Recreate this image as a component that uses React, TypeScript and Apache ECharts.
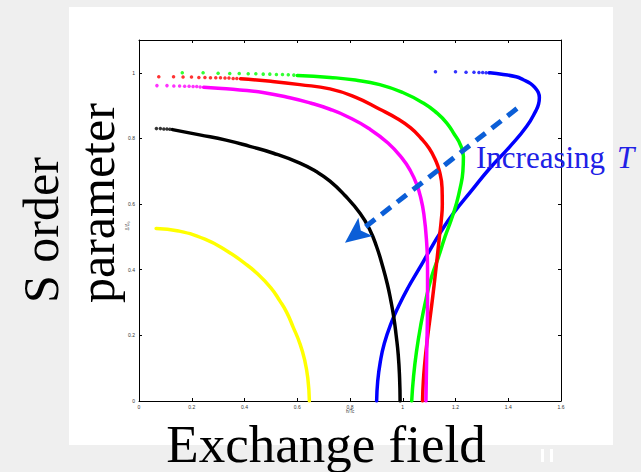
import React, { useEffect, useRef } from 'react';
import * as echarts from 'echarts';

// ---- axis ticks ----
const xTickLabels = ['0', '0.2', '0.4', '0.6', '0.8', '1', '1.2', '1.4', '1.6'];
const yTickLabels = ['0', '0.2', '0.4', '0.6', '0.8', '1'];

// ---- curves (h/Tc, Δ/Δ0) ----
const blueDotsX = [1.124, 1.2, 1.24, 1.27, 1.289, 1.303, 1.316, 1.327];
const blueDotsY = [1.003, 1.003, 1.002, 1.002, 1.001, 1.001, 1.0, 1.0];
const blueLine = [
  [1.33, 1.0], [1.381, 0.995], [1.43, 0.988], [1.457, 0.979], [1.485, 0.967], [1.502, 0.954],
  [1.514, 0.94], [1.518, 0.925], [1.515, 0.905], [1.505, 0.885], [1.47, 0.837], [1.407, 0.776],
  [1.331, 0.71], [1.26, 0.64], [1.192, 0.572], [1.14, 0.51], [1.103, 0.46], [1.06, 0.4],
  [1.02, 0.345], [0.985, 0.29], [0.955, 0.235], [0.93, 0.175], [0.915, 0.12], [0.905, 0.06], [0.901, 0.0],
];

const greenDotsX = [0.164, 0.243, 0.3, 0.344, 0.38, 0.414, 0.443, 0.471, 0.496, 0.521, 0.544, 0.566, 0.587];
const greenDotsY = [1.0, 1.0, 0.999, 0.998, 0.998, 0.997, 0.997, 0.996, 0.996, 0.995, 0.995, 0.994, 0.993];
const greenLine = [
  [0.6, 0.992], [0.724, 0.986], [0.82, 0.978], [0.913, 0.964], [1.0, 0.94],
  [1.078, 0.908], [1.13, 0.877], [1.167, 0.847], [1.196, 0.812], [1.217, 0.783], [1.23, 0.745],
  [1.228, 0.7], [1.218, 0.65], [1.203, 0.6], [1.183, 0.55], [1.16, 0.5], [1.136, 0.44],
  [1.11, 0.38], [1.088, 0.31], [1.068, 0.23], [1.052, 0.15], [1.041, 0.075], [1.034, 0.0],
];

const redDotsX = [0.075, 0.131, 0.167, 0.199, 0.227, 0.25, 0.271, 0.291, 0.309, 0.326, 0.341, 0.357, 0.371];
const redDotsY = [0.988, 0.988, 0.987, 0.987, 0.986, 0.986, 0.985, 0.985, 0.985, 0.984, 0.984, 0.983, 0.983];
const redLine = [
  [0.385, 0.982], [0.5, 0.974], [0.61, 0.964], [0.724, 0.951], [0.82, 0.926],
  [0.913, 0.889], [0.98, 0.86], [1.03, 0.832], [1.07, 0.8], [1.1, 0.77], [1.123, 0.736],
  [1.139, 0.7], [1.149, 0.65], [1.15, 0.6], [1.146, 0.55], [1.139, 0.5], [1.131, 0.44], [1.124, 0.39],
  [1.114, 0.32], [1.103, 0.25], [1.092, 0.18], [1.084, 0.12], [1.078, 0.06], [1.075, 0.0],
];

const magentaDotsX = [0.068, 0.106, 0.132, 0.154, 0.173, 0.19, 0.205, 0.219, 0.232];
const magentaDotsY = [0.961, 0.961, 0.96, 0.96, 0.959, 0.959, 0.958, 0.958, 0.957];
const magentaLine = [
  [0.245, 0.956], [0.3, 0.953], [0.382, 0.948], [0.47, 0.94], [0.572, 0.924], [0.65, 0.908],
  [0.724, 0.889], [0.789, 0.867], [0.87, 0.831], [0.944, 0.786], [1.0, 0.737], [1.03, 0.7],
  [1.052, 0.662], [1.068, 0.62], [1.08, 0.57], [1.09, 0.49], [1.094, 0.4], [1.094, 0.3],
  [1.091, 0.15], [1.088, 0.0],
];

const blackDotsX = [0.066, 0.081, 0.094, 0.106, 0.117];
const blackDotsY = [0.83, 0.83, 0.829, 0.829, 0.828];
const blackLine = [
  [0.127, 0.827], [0.23, 0.811], [0.33, 0.795], [0.42, 0.776], [0.51, 0.755], [0.61, 0.725],
  [0.67, 0.7], [0.724, 0.67], [0.78, 0.627], [0.838, 0.572], [0.875, 0.522], [0.901, 0.47],
  [0.924, 0.41], [0.942, 0.355], [0.955, 0.305], [0.966, 0.255], [0.975, 0.2], [0.983, 0.14],
  [0.988, 0.07], [0.99, 0.0],
];

const yellowLine = [
  [0.065, 0.526], [0.15, 0.518], [0.25, 0.493], [0.332, 0.458], [0.4, 0.42], [0.446, 0.39],
  [0.5, 0.345], [0.534, 0.305], [0.56, 0.27], [0.584, 0.226], [0.61, 0.175], [0.628, 0.125],
  [0.64, 0.07], [0.646, 0.0],
];

// annotation arrow (data coords)
const arrowStart = [1.433, 0.891];
const arrowTip = [0.781, 0.482];

const zip = (xs: number[], ys: number[]) => xs.map((x, i) => [x, ys[i]]);

export default function App() {
  const ref = useRef<HTMLDivElement>(null);
  useEffect(() => {
    document.body.style.margin = '0';
    const chart = echarts.init(ref.current!, null, { renderer: 'svg' });
    const fmtX = (v: number) => xTickLabels[Math.round(v / 0.2)] ?? '';
    const fmtY = (v: number) => {
      const i = v / 0.2;
      return Math.abs(i - Math.round(i)) < 1e-6 ? yTickLabels[Math.round(i)] ?? '' : '';
    };
    const axisLine = { show: true, onZero: false, lineStyle: { color: '#000', width: 1 } };
    const axisTick = { show: true, inside: true, length: 3, lineStyle: { color: '#000', width: 1 } };
    const lineSeries = (data: number[][], color: string) => ({
      type: 'line', data, smooth: 0.5, showSymbol: false, symbol: 'none',
      lineStyle: { color, width: 3.5, cap: 'round', join: 'round' }, silent: true,
    });
    const dotSeries = (data: number[][], color: string) => ({
      type: 'scatter', data, symbol: 'circle', symbolSize: 3.5,
      itemStyle: { color }, silent: true,
    });
    chart.setOption({
      animation: false,
      backgroundColor: '#efefef',
      grid: { left: 139, top: 40, width: 422, height: 361, containLabel: false },
      xAxis: [
        {
          type: 'value', min: 0, max: 1.6, interval: 0.2, position: 'bottom',
          axisLine, axisTick,
          axisLabel: { fontSize: 5, color: '#333', margin: 3, formatter: fmtX, fontFamily: 'Arial' },
          splitLine: { show: false },
        },
        {
          type: 'value', min: 0, max: 1.6, interval: 0.2, position: 'top',
          axisLine, axisTick, axisLabel: { show: false }, splitLine: { show: false },
        },
      ],
      yAxis: [
        {
          type: 'value', min: 0, max: 1.1, interval: 0.2, position: 'left',
          axisLine, axisTick,
          axisLabel: { fontSize: 5, color: '#333', margin: 4, formatter: fmtY, showMaxLabel: false, fontFamily: 'Arial' },
          splitLine: { show: false },
        },
        {
          type: 'value', min: 0, max: 1.1, interval: 0.2, position: 'right',
          axisLine, axisTick, axisLabel: { show: false }, splitLine: { show: false },
        },
      ],
      series: [
        dotSeries(zip(blueDotsX, blueDotsY), '#0000ff'),
        lineSeries(blueLine, '#0000ff'),
        dotSeries(zip(greenDotsX, greenDotsY), '#00ff00'),
        lineSeries(greenLine, '#00ff00'),
        dotSeries(zip(redDotsX, redDotsY), '#ff0000'),
        lineSeries(redLine, '#ff0000'),
        dotSeries(zip(magentaDotsX, magentaDotsY), '#ff00ff'),
        lineSeries(magentaLine, '#ff00ff'),
        dotSeries(zip(blackDotsX, blackDotsY), '#000000'),
        lineSeries(blackLine, '#000000'),
        lineSeries(yellowLine, '#ffff00'),
      ],
    });

    const s = chart.convertToPixel({ gridIndex: 0 }, arrowStart) as number[];
    const t = chart.convertToPixel({ gridIndex: 0 }, arrowTip) as number[];
    const dx = s[0] - t[0], dy = s[1] - t[1];
    const len = Math.hypot(dx, dy);
    const ux = dx / len, uy = dy / len; // from tip back toward start
    const nx = -uy, ny = ux;
    const headLen = 26, halfW = 11.5, notch = 20;
    const bx = t[0] + ux * headLen, by = t[1] + uy * headLen;
    const head = [
      [t[0], t[1]],
      [bx + nx * halfW, by + ny * halfW],
      [t[0] + ux * notch, t[1] + uy * notch],
      [bx - nx * halfW, by - ny * halfW],
    ];
    const arrowColor = '#0b5ed7';
    const serif = '"Liberation Serif", "DejaVu Serif", serif';

    chart.setOption({
      graphic: [
        { type: 'rect', z: -10, silent: true, shape: { x: 69, y: 7, width: 544, height: 438 }, style: { fill: '#ffffff' } },
        {
          type: 'line', z: 50, silent: true,
          shape: { x1: s[0], y1: s[1], x2: t[0] + ux * notch, y2: t[1] + uy * notch },
          style: { stroke: arrowColor, lineWidth: 5, lineDash: [12, 8] },
        },
        { type: 'polygon', z: 51, silent: true, shape: { points: head }, style: { fill: arrowColor } },
        {
          type: 'text', z: 60, silent: true, x: 476, y: 157,
          style: { text: 'Increasing', fontSize: 31, fontFamily: serif, fill: '#2020e6', align: 'left', verticalAlign: 'middle' },
        },
        {
          type: 'text', z: 60, silent: true, x: 617, y: 157,
          style: { text: 'T', fontSize: 31, fontStyle: 'italic', fontFamily: serif, fill: '#2020e6', align: 'left', verticalAlign: 'middle' },
        },
        {
          type: 'text', z: 60, silent: true, x: 326, y: 444,
          style: { text: 'Exchange field', fontSize: 53, fontFamily: serif, fill: '#000', align: 'center', verticalAlign: 'middle' },
        },
        {
          type: 'text', z: 60, silent: true, x: 41, y: 303, rotation: Math.PI / 2,
          style: { text: 'S order', fontSize: 50, fontFamily: serif, fill: '#000', align: 'left', verticalAlign: 'middle' },
        },
        {
          type: 'text', z: 60, silent: true, x: 97, y: 303, rotation: Math.PI / 2,
          style: { text: 'parameter', fontSize: 50, fontFamily: serif, fill: '#000', align: 'left', verticalAlign: 'middle' },
        },
        {
          type: 'text', z: 60, silent: true, x: 350, y: 411,
          style: { text: 'h/Tc', fontSize: 4.5, fontFamily: 'Arial', fill: '#333', align: 'center', verticalAlign: 'middle' },
        },
        {
          type: 'text', z: 60, silent: true, x: 127, y: 226, rotation: Math.PI / 2,
          style: { text: 'Δ/Δ₀', fontSize: 4.5, fontFamily: 'Arial', fill: '#333', align: 'center', verticalAlign: 'middle' },
        },
        { type: 'rect', z: 60, silent: true, shape: { x: 541, y: 449, width: 3, height: 13 }, style: { fill: '#ffffff' } },
        { type: 'rect', z: 60, silent: true, shape: { x: 550, y: 449, width: 3, height: 13 }, style: { fill: '#ffffff' } },
      ],
    });
    return () => chart.dispose();
  }, []);
  return <div ref={ref} style={{ position: 'fixed', left: 0, top: 0, width: 641, height: 472 }} />;
}
